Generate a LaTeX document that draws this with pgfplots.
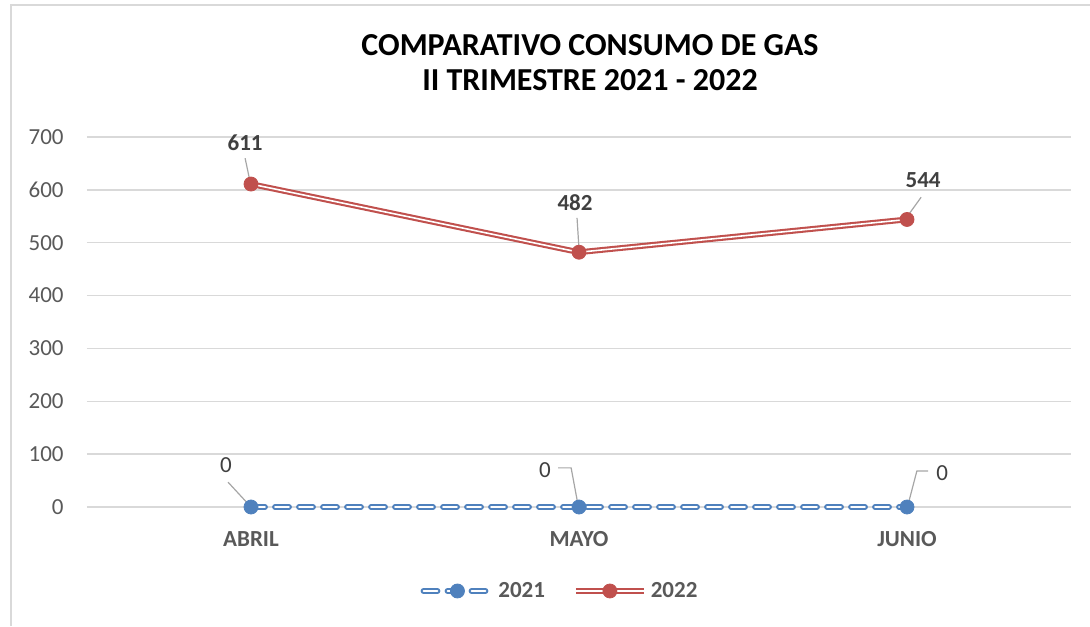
\documentclass[border=0pt]{standalone}
\usepackage{pgfplots}
\pgfplotsset{compat=1.18}
\usepackage{fontspec}
\setmainfont{Carlito}
\definecolor{c21}{HTML}{4F81BD}
\definecolor{c22}{HTML}{C0504D}
\definecolor{txt}{HTML}{595959}
\definecolor{lbl}{HTML}{404040}
\definecolor{gridc}{HTML}{D9D9D9}
\definecolor{lead}{HTML}{A6A6A6}
\begin{document}
\begin{tikzpicture}
\useasboundingbox (-43.5pt,-59.5pt) rectangle (501.5pt,253.5pt);
\draw[gridc, line width=0.75pt] (-38pt,-59.5pt) -- (-38pt,251pt) -- (501.5pt,251pt);
\begin{axis}[
  scale only axis, width=492pt, height=185pt,
  at={(0pt,0pt)}, anchor=south west,
  xmin=-0.5, xmax=2.5, ymin=0, ymax=700,
  xtick={0,1,2}, xticklabels={ABRIL,MAYO,JUNIO},
  ytick={0,100,...,700},
  ymajorgrids, major grid style={gridc, line width=0.75pt},
  axis line style={draw=none},
  tick style={draw=none},
  /pgf/number format/assume math mode=true,
  xticklabel style={font=\bfseries\fontsize{11.5}{13}\selectfont, text=txt, anchor=north, inner sep=0pt, yshift=-12pt},
  yticklabel style={font=\fontsize{11.5}{13}\selectfont, text=txt, anchor=east, inner sep=0pt, xshift=-11.5pt},
  clip=false,
  legend columns=2,
  legend style={at={(0.4817,-0.227)}, anchor=center, draw=none, fill=none,
    font=\bfseries\fontsize{11.5}{13}\selectfont, text=txt,
    /tikz/every even column/.append style={column sep=12pt}},
  legend image code/.code={\draw[mark repeat=2,mark phase=2,#1] plot coordinates {(0pt,0pt)(17pt,0pt)(34pt,0pt)};},
]
\addplot[c21, line width=1.05pt, double=white, double distance=0.8pt, dash pattern=on 7pt off 5pt, line cap=round,
  mark=*, mark size=3.5pt, mark options={solid, fill=c21, draw=c21, line width=0.4pt}]
  coordinates {(0,0) (1,0) (2,0)};
\addlegendentry{2021}
\addplot[c22, line width=1.05pt, double=white, double distance=0.8pt,
  mark=*, mark size=3.5pt, mark options={solid, fill=c22, draw=c22, line width=0.4pt}]
  coordinates {(0,611) (1,482) (2,544)};
\addlegendentry{2022}

% title
\node[font=\bfseries\fontsize{16}{19}\selectfont, text=black] at (rel axis cs:0.5112,1.2486) {COMPARATIVO CONSUMO DE GAS};
\node[font=\bfseries\fontsize{16}{19}\selectfont, text=black] at (rel axis cs:0.5112,1.154) {II TRIMESTRE 2021 - 2022};

% data labels 2022
\draw[lead, line width=0.6pt] (axis cs:-0.018,660) -- (axis cs:-0.003,616);
\node[font=\bfseries\fontsize{11.5}{13}\selectfont, text=lbl] at (axis cs:-0.018,690) {611};
\draw[lead, line width=0.6pt] (axis cs:0.994,547) -- (axis cs:1,488);
\node[font=\bfseries\fontsize{11.5}{13}\selectfont, text=lbl] at (axis cs:0.988,575) {482};
\draw[lead, line width=0.6pt] (axis cs:2.043,586) -- (axis cs:2,549);
\node[font=\bfseries\fontsize{11.5}{13}\selectfont, text=lbl] at (axis cs:2.049,619) {544};

% data labels 2021
\draw[lead, line width=0.6pt] (axis cs:-0.070,47) -- (axis cs:-0.006,4);
\node[font=\fontsize{11.5}{13}\selectfont, text=lbl] at (axis cs:-0.076,80) {0};
\draw[lead, line width=0.6pt] (axis cs:0.936,74) -- (axis cs:0.976,74) -- (axis cs:0.997,4);
\node[font=\fontsize{11.5}{13}\selectfont, text=lbl] at (axis cs:0.896,70) {0};
\draw[lead, line width=0.6pt] (axis cs:2.064,68) -- (axis cs:2.03,68) -- (axis cs:2.003,4);
\node[font=\fontsize{11.5}{13}\selectfont, text=lbl] at (axis cs:2.107,64) {0};
\end{axis}
\end{tikzpicture}
\end{document}
